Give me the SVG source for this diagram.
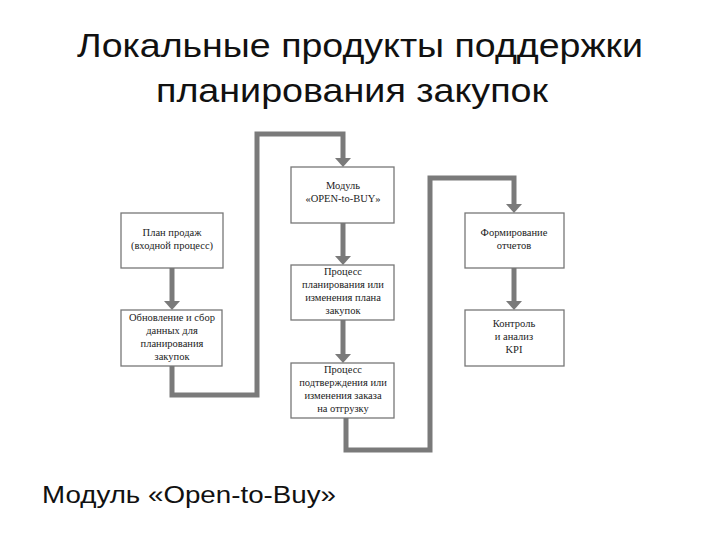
<svg xmlns="http://www.w3.org/2000/svg" width="720" height="540" viewBox="0 0 720 540">
<style>
.t{font-family:"Liberation Sans",Arial,sans-serif;fill:#111}
.b rect{fill:#fff;stroke:#777;stroke-width:1.3}
.b text{font-family:"Liberation Serif","Times New Roman",serif;font-size:10.5px;text-anchor:middle;fill:#222}
.c{fill:none;stroke:#7a7a7a;stroke-width:5}
</style>
<defs><marker id="a" markerUnits="userSpaceOnUse" markerWidth="16" markerHeight="10" refX="8" refY="9" orient="auto-start-reverse" viewBox="0 0 16 10"><path d="M0,0 L16,0 L8,9 Z" fill="#7a7a7a" transform="rotate(0)"/></marker></defs>
<rect width="720" height="540" fill="#fff"/>
<text class="t" x="360" y="57" font-size="33" text-anchor="middle" textLength="566" lengthAdjust="spacingAndGlyphs">Локальные продукты поддержки</text>
<text class="t" x="352" y="102" font-size="33" text-anchor="middle" textLength="392" lengthAdjust="spacingAndGlyphs">планирования закупок</text>
<g id="connectors">
<path class="c" d="M172,268 V302"/>
<path class="c" d="M172,366 V395 H257 V134 H343 V159"/>
<path class="c" d="M343,223 V257"/>
<path class="c" d="M343,320 V355"/>
<path class="c" d="M346,418 V450 H430 V178 H514 V205"/>
<path class="c" d="M514,268 V302"/>
<g fill="#7a7a7a"><path d="M164,301 H180 L172,310 Z"/><path d="M335,158 H351 L343,167 Z"/><path d="M335,256 H351 L343,265 Z"/><path d="M335,354 H351 L343,363 Z"/><path d="M506,204 H522 L514,213 Z"/><path d="M506,301 H522 L514,310 Z"/></g>
</g>
<g id="n1" class="b"><rect x="121" y="213" width="102" height="55"/><text x="172" y="236">План продаж</text><text x="172" y="249">(входной процесс)</text></g>
<g id="n2" class="b"><rect x="121" y="310" width="101" height="56"/><text x="172" y="321">Обновление и сбор</text><text x="172" y="334">данных для</text><text x="172" y="347">планирования</text><text x="172" y="360">закупок</text></g>
<g id="n3" class="b"><rect x="291" y="167" width="103" height="56"/><text x="343" y="189">Модуль</text><text x="343" y="202">«OPEN-to-BUY»</text></g>
<g id="n4" class="b"><rect x="291" y="265" width="103" height="55"/><text x="343" y="275">Процесс</text><text x="343" y="288">планирования или</text><text x="343" y="301">изменения плана</text><text x="343" y="314">закупок</text></g>
<g id="n5" class="b"><rect x="291" y="363" width="103" height="55"/><text x="343" y="373">Процесс</text><text x="343" y="386">подтверждения или</text><text x="343" y="399">изменения заказа</text><text x="343" y="412">на отгрузку</text></g>
<g id="n6" class="b"><rect x="465" y="213" width="99" height="55"/><text x="514" y="236">Формирование</text><text x="514" y="249">отчетов</text></g>
<g id="n7" class="b"><rect x="465" y="310" width="99" height="56"/><text x="514" y="327">Контроль</text><text x="514" y="340">и анализ</text><text x="514" y="353">KPI</text></g>
<text class="t" x="42" y="503" font-size="23" textLength="294" lengthAdjust="spacingAndGlyphs">Модуль «Open-to-Buy»</text>
</svg>
